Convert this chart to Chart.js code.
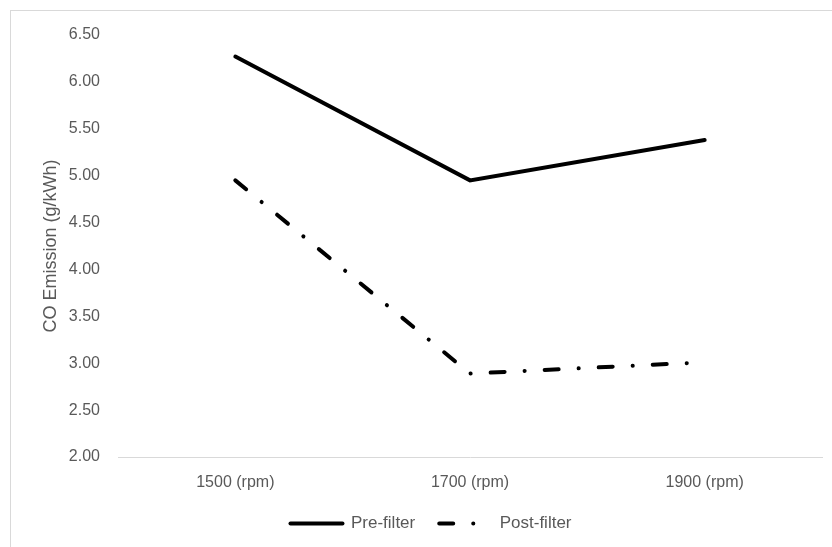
<!DOCTYPE html>
<html>
<head>
<meta charset="utf-8">
<script src="https://cdn.jsdelivr.net/npm/chart.js@4"></script>
<style>
  html, body { margin: 0; padding: 0; background: #fff; overflow: hidden; }
  #frame { position: absolute; left: 10px; top: 10px; width: 840px; height: 560px; border: 1px solid #d9d9d9; }
  #wrap { position: absolute; left: 0; top: 0; width: 832px; height: 547px; }
</style>
</head>
<body>
<div id="frame"></div>
<div id="wrap"><canvas id="co-chart"></canvas></div>
<script>
  // Engine speed categories and CO emission values
  const speeds = ["1500 (rpm)", "1700 (rpm)", "1900 (rpm)"];
  const preFilter = [6.27, 4.95, 5.38];
  const postFilter = [4.95, 2.89, 3.01];

  const axisTitle = "CO Emission (g/kWh)";
  const yMin = 2.0;
  const yMax = 6.5;
  const yStep = 0.5;

  const textColor = "#595959";
  const fontFamily = "'Liberation Sans', Arial, sans-serif";
  const postDash = [14, 20, 0.1, 20];

  const ctx = document.getElementById("co-chart").getContext("2d");

  // legend items take the line style (dash, cap) of their dataset
  const legendLabels = (chart) => {
    const items = Chart.defaults.plugins.legend.labels.generateLabels(chart);
    items.forEach((item) => {
      const ds = chart.data.datasets[item.datasetIndex];
      item.lineDash = ds.borderDash || [];
      item.lineCap = "round";
      item.lineWidth = ds.borderWidth;
      item.strokeStyle = ds.borderColor;
      item.pointStyle = "line";
    });
    return items;
  };

  new Chart(ctx, {
    type: "line",
    data: {
      labels: speeds,
      datasets: [
        {
          label: "Pre-filter",
          data: preFilter,
          borderColor: "#000",
          borderWidth: 4,
          borderCapStyle: "round",
          borderJoinStyle: "miter",
          pointRadius: 0,
          tension: 0,
        },
        {
          label: "Post-filter",
          data: postFilter,
          borderColor: "#000",
          borderWidth: 4,
          borderDash: postDash,
          borderCapStyle: "round",
          borderJoinStyle: "round",
          pointRadius: 0,
          tension: 0,
        },
      ],
    },
    options: {
      responsive: true,
      maintainAspectRatio: false,
      animation: false,
      layout: { padding: { top: 35, right: 10, left: 40, bottom: 5 } },
      plugins: {
        tooltip: { enabled: false },
        legend: {
          position: "bottom",
          labels: {
            color: textColor,
            font: { family: fontFamily, size: 17 },
            usePointStyle: true,
            pointStyle: "line",
            pointStyleWidth: 52,
            padding: 24,
            generateLabels: legendLabels,
          },
        },
      },
      scales: {
        x: {
          offset: true,
          grid: { display: false, drawTicks: false },
          border: { display: true, color: "#d9d9d9", width: 1 },
          ticks: {
            color: textColor,
            font: { family: fontFamily, size: 16 },
            padding: 16,
            maxRotation: 0,
          },
          afterFit: (scale) => { scale.height = 34; },
        },
        y: {
          min: yMin,
          max: yMax,
          grid: { display: false, drawTicks: false },
          border: { display: false },
          ticks: {
            stepSize: yStep,
            color: textColor,
            font: { family: fontFamily, size: 16 },
            padding: 18,
            callback: (v) => Number(v).toFixed(2),
          },
          title: {
            display: true,
            text: axisTitle,
            color: textColor,
            font: { family: fontFamily, size: 18 },
            padding: 0,
          },
          afterFit: (scale) => { scale.width = 78; },
        },
      },
    },
  });
</script>
</body>
</html>
